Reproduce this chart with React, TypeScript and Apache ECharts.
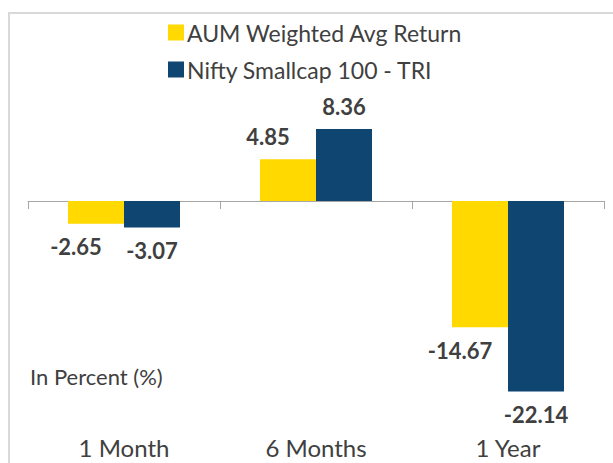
import React, { useEffect, useRef } from "react";
import * as echarts from "echarts";

const categories = ["1 Month", "6 Months", "1 Year"];
const aumReturn = [-2.65, 4.85, -14.67];
const niftyReturn = [-3.07, 8.36, -22.14];
const seriesNames = ["AUM Weighted Avg Return", "Nifty Smallcap 100 - TRI"];
const unitNote = "In Percent (%)";

const YELLOW = "#FFD900";
const NAVY = "#0F4571";
const TEXT = "#404040";
const FONT = "Lato";

export default function App() {
  const ref = useRef<HTMLDivElement>(null);
  useEffect(() => {
    if (!ref.current) return;
    const chart = echarts.init(ref.current, undefined, { renderer: "svg" });
    const labelFor = (dx: number) => ({
      show: true,
      fontFamily: FONT,
      fontSize: 22,
      fontWeight: "bold",
      color: TEXT,
      distance: 12,
      offset: [dx, 0],
      formatter: (p: any) => p.value.toFixed(2),
    });
    const mk = (vals: number[], dx: number) =>
      vals.map((v) => ({
        value: v,
        label: { ...labelFor(dx), position: v >= 0 ? "top" : "bottom" },
      }));
    chart.setOption({
      animation: false,
      backgroundColor: "#ffffff",
      textStyle: { fontFamily: FONT },
      graphic: [
        {
          type: "rect",
          shape: { x: 9, y: 13, width: 700, height: 600 },
          style: { fill: "none", stroke: "#D9D9D9", lineWidth: 2 },
          silent: true,
        },
        {
          type: "text",
          left: 30,
          top: 365,
          style: { text: unitNote, fontFamily: FONT, fontSize: 22, fill: TEXT },
        },
      ],
      legend: {
        orient: "vertical",
        left: 163,
        top: 16,
        itemWidth: 16,
        itemHeight: 16,
        itemGap: 14,
        icon: "rect",
        textStyle: { fontFamily: FONT, fontSize: 23, color: TEXT, padding: [0, 0, 0, -2] },
        data: seriesNames,
      },
      grid: {
        left: 28,
        width: 576,
        top: 72,
        height: 344,
        containLabel: false,
        outerBoundsMode: "none",
      },
      xAxis: [
        {
          type: "category",
          data: categories,
          position: "bottom",
          axisLine: { show: false, onZero: false },
          axisTick: { show: false },
          axisLabel: { fontFamily: FONT, fontSize: 24, color: TEXT, margin: 19 },
        },
        {
          type: "category",
          data: categories,
          position: "top",
          axisLine: { show: true, onZero: true, lineStyle: { color: "#A6A6A6", width: 1 } },
          axisTick: { show: true, inside: true, length: 8, lineStyle: { color: "#A6A6A6" } },
          axisLabel: { show: false },
        },
      ],
      yAxis: {
        type: "value",
        min: -25,
        max: 15,
        show: true,
        axisLine: { show: false },
        axisTick: { show: false },
        axisLabel: { show: false },
        splitLine: { show: false },
      },
      series: [
        {
          name: seriesNames[0],
          type: "bar",
          xAxisIndex: 0,
          data: mk(aumReturn, -20),
          itemStyle: { color: YELLOW },
          barWidth: 56,
          barGap: "0%",
        },
        {
          name: seriesNames[1],
          type: "bar",
          xAxisIndex: 0,
          data: mk(niftyReturn, 0),
          itemStyle: { color: NAVY },
          barWidth: 56,
          barGap: "0%",
        },
      ],
    });
    return () => chart.dispose();
  }, []);
  return (
    <div
      ref={ref}
      style={{ position: "absolute", left: 0, top: 0, width: 613, height: 463 }}
    />
  );
}
